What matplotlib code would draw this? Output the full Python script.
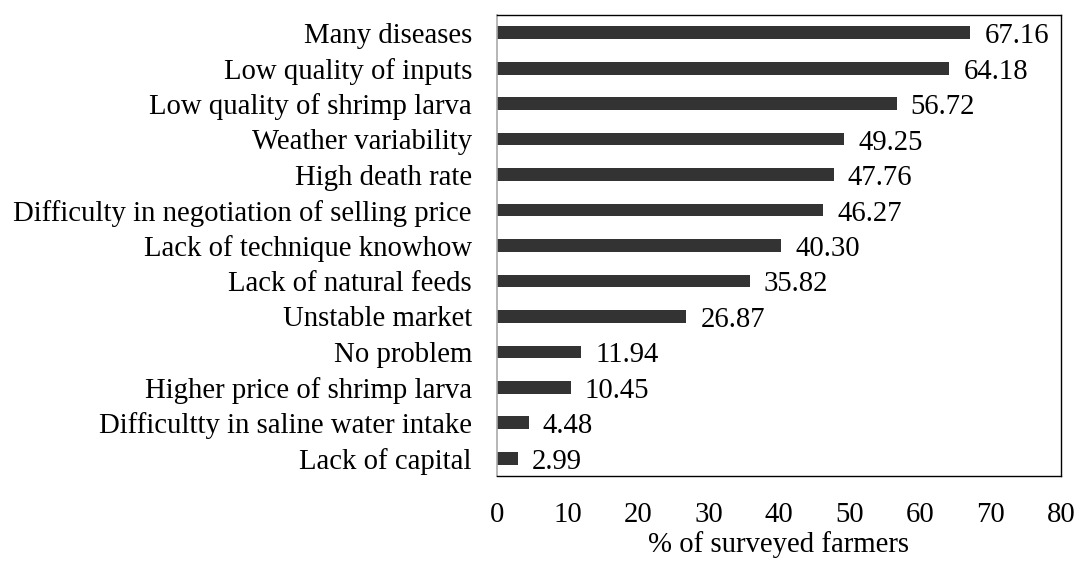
import matplotlib
matplotlib.use("Agg")
import matplotlib.pyplot as plt

categories = [
    "Many diseases",
    "Low quality of inputs",
    "Low quality of shrimp larva",
    "Weather variability",
    "High death rate",
    "Difficulty in negotiation of selling price",
    "Lack of technique knowhow",
    "Lack of natural feeds",
    "Unstable market",
    "No problem",
    "Higher price of shrimp larva",
    "Difficultty in saline water intake",
    "Lack of capital",
]
values = [67.16, 64.18, 56.72, 49.25, 47.76, 46.27, 40.30, 35.82, 26.87, 11.94, 10.45, 4.48, 2.99]
xticks = [0, 10, 20, 30, 40, 50, 60, 70, 80]

plt.rcParams["font.family"] = ["Liberation Serif", "DejaVu Serif"]
fs = 20.7

fig = plt.figure(figsize=(10.75, 5.63), dpi=100)
ax = fig.add_axes([0.4623, 0.1545, 0.5247, 0.8189])

ypos = list(range(len(categories)))[::-1]
ax.barh(ypos, values, height=0.36, color="#333333")
for y, v in zip(ypos, values):
    ax.annotate(f"{v:.2f}", xy=(v, y), xytext=(10, -2.5), textcoords="offset points",
                va="center", ha="left", fontsize=fs)

ax.set_xlim(0, 80)
ax.set_ylim(-0.5, len(categories) - 0.5)
ax.set_yticks(ypos)
ax.set_yticklabels(categories, fontsize=fs)
ax.set_xticks(xticks)
ax.set_xticklabels([str(t) for t in xticks], fontsize=fs)
ax.tick_params(axis="both", length=0)
ax.tick_params(axis="x", pad=19)
ax.tick_params(axis="y", pad=18)
ax.set_xlabel("% of surveyed farmers", fontsize=fs, labelpad=2)

for s in ["top", "right", "bottom"]:
    ax.spines[s].set_color("black")
    ax.spines[s].set_linewidth(1.0)
ax.spines["left"].set_color("#aaaaaa")
ax.spines["left"].set_linewidth(1.2)

fig.savefig("out.png")
